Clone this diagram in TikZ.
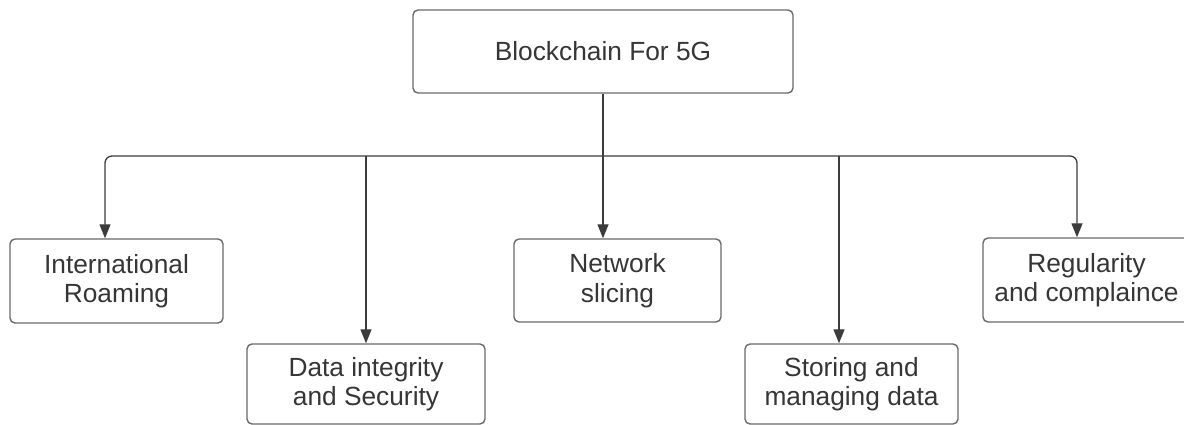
\documentclass[tikz,border=0pt]{standalone}
\usepackage{fontspec}
\setmainfont{Liberation Sans}
\usetikzlibrary{arrows.meta,calc}
\definecolor{boxline}{HTML}{6A6A6A}
\definecolor{txt}{HTML}{363636}
\definecolor{conn}{HTML}{3C3C3C}
\tikzset{
  x=1pt,y=-1pt,
  boxnode/.style={draw=boxline,line width=1.4pt,rounded corners=5pt,fill=white,
    text=txt,align=center,inner sep=0pt,
    font=\fontsize{26.3}{29.5}\selectfont},
  conline/.style={draw=conn,line width=1.3pt},
  arr/.style={conline,-{Triangle[width=11pt,length=14pt]}}
}
\begin{document}
\begin{tikzpicture}
\useasboundingbox (0,0) rectangle (1184,425);
\clip (0,0) rectangle (1184,425);
\node[boxnode,minimum width=380pt,minimum height=83pt] (top) at (603,51.5) {Blockchain For 5G};
\node[boxnode,minimum width=213pt,minimum height=84pt] (ir) at (116.5,281) {International\\Roaming};
\node[boxnode,minimum width=207pt,minimum height=83pt] (ns) at (617.5,280.5) {Network\\slicing};
\node[boxnode,minimum width=207pt,minimum height=84pt] (rc) at (1086.5,280) {Regularity\\and complaince};
\node[boxnode,minimum width=238pt,minimum height=80pt] (di) at (366,384) {Data integrity\\and Security};
\node[boxnode,minimum width=213pt,minimum height=80pt] (sm) at (851.5,384) {Storing and\\managing data};
\coordinate (bl) at (105,156);
\coordinate (bd) at (366,156);
\coordinate (bn) at (603,156);
\coordinate (bs) at (839,156);
\coordinate (br) at (1077,156);
\draw[conline] (top.south -| bn) -- (bn);
\draw[arr,rounded corners=7pt] (bn) -- (bl) -- (ir.north -| bl);
\draw[arr,rounded corners=7pt] (bn) -- (br) -- (rc.north -| br);
\draw[arr] (bd) -- (di.north -| bd);
\draw[arr] (bn) -- (ns.north -| bn);
\draw[arr] (bs) -- (sm.north -| bs);
\end{tikzpicture}
\end{document}
